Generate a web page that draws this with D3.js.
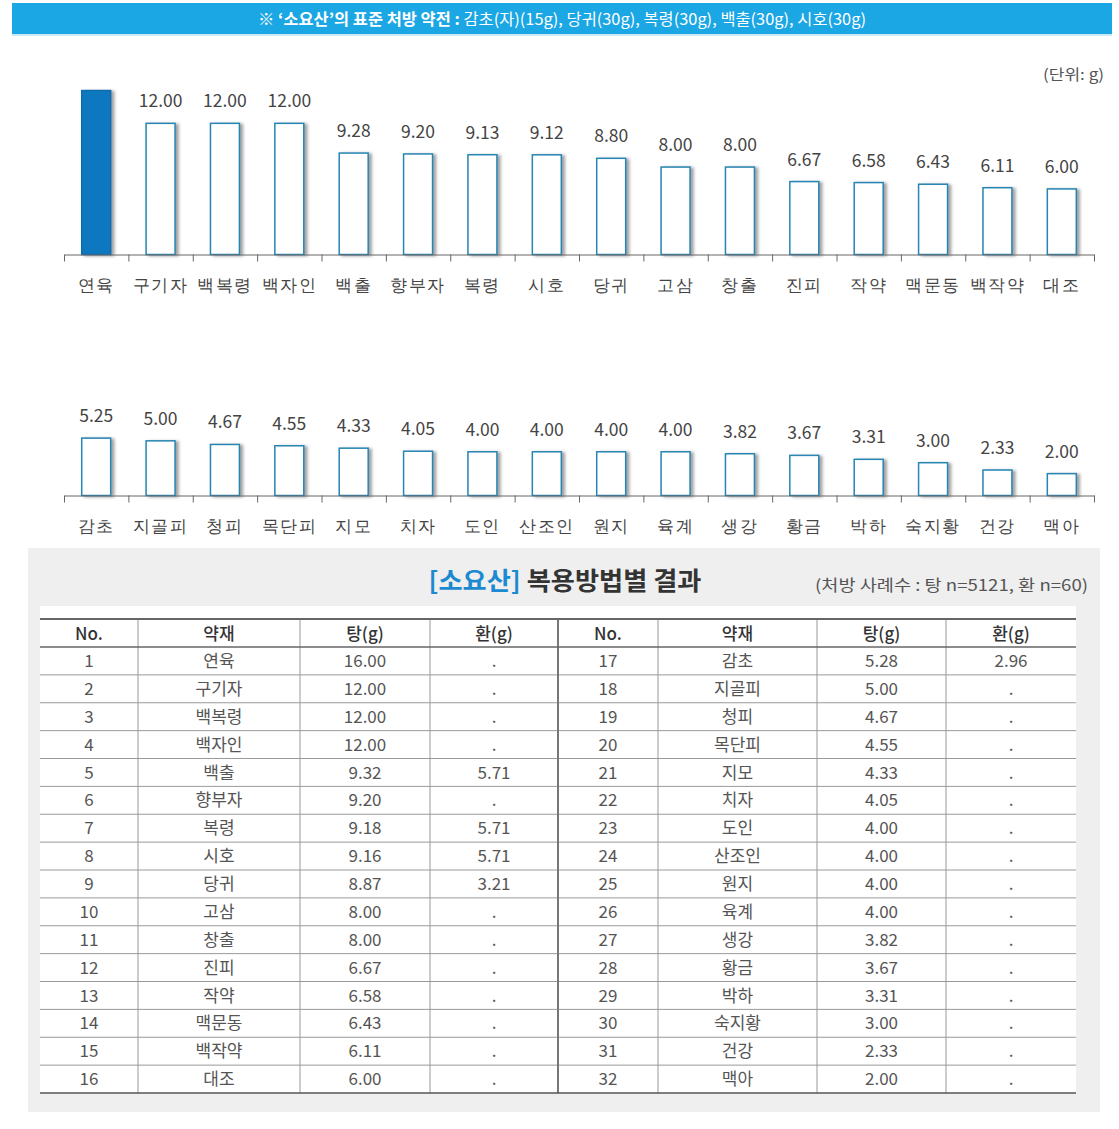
<!DOCTYPE html>
<html><head><meta charset="utf-8">
<script src="https://cdn.jsdelivr.net/npm/d3@7"></script>
<style>
html,body{margin:0;padding:0;background:#fff;}
svg{display:block;font-family:"Noto Sans CJK KR","Noto Sans",sans-serif;}
</style></head>
<body>
<svg id="c" width="1119" height="1129"></svg>
<script>
// ---------- data ----------
const herbs1 = ["연육","구기자","백복령","백자인","백출","향부자","복령","시호","당귀","고삼","창출","진피","작약","맥문동","백작약","대조"];
const values1 = [16.00,12.00,12.00,12.00,9.28,9.20,9.13,9.12,8.80,8.00,8.00,6.67,6.58,6.43,6.11,6.00];
const herbs2 = ["감초","지골피","청피","목단피","지모","치자","도인","산조인","원지","육계","생강","황금","박하","숙지황","건강","맥아"];
const values2 = [5.25,5.00,4.67,4.55,4.33,4.05,4.00,4.00,4.00,4.00,3.82,3.67,3.31,3.00,2.33,2.00];

const tableNo = d3.range(1,33);
const tableHerb = herbs1.concat(herbs2);
const tableTang = ["16.00","12.00","12.00","12.00","9.32","9.20","9.18","9.16","8.87","8.00","8.00","6.67","6.58","6.43","6.11","6.00",
                   "5.28","5.00","4.67","4.55","4.33","4.05","4.00","4.00","4.00","4.00","3.82","3.67","3.31","3.00","2.33","2.00"];
const tableHwan = [".",".",".",".","5.71",".","5.71","5.71","3.21",".",".",".",".",".",".",".",
                   "2.96",".",".",".",".",".",".",".",".",".",".",".",".",".",".","."];
const tableHeads = ["No.","약재","탕(g)","환(g)"];

const svg = d3.select("#c");
const defs = svg.append("defs");
const f = defs.append("filter").attr("id","sh").attr("x","-20%").attr("y","-10%").attr("width","160%").attr("height","130%");
f.append("feDropShadow").attr("dx",3).attr("dy",1).attr("stdDeviation",1.6).attr("flood-color","#555").attr("flood-opacity",0.55);

// ---------- header bar ----------
svg.append("rect").attr("x",12).attr("y",3).attr("width",1100).attr("height",31).attr("fill","#1ba6e4");
svg.append("rect").attr("x",12).attr("y",34).attr("width",1100).attr("height",2).attr("fill","#cde9f6");
const ht = svg.append("text").attr("x",562).attr("y",25).attr("text-anchor","middle")
  .attr("font-size",16).attr("fill","#fff").attr("textLength",608).attr("lengthAdjust","spacingAndGlyphs");
ht.append("tspan").attr("font-weight","bold").text("※ ‘소요산’의 표준 처방 약전 : ");
ht.append("tspan").text("감초(자)(15g), 당귀(30g), 복령(30g), 백출(30g), 시호(30g)");

svg.append("text").attr("x",1104).attr("y",80).attr("text-anchor","end").attr("font-size",15).attr("fill","#555")
  .attr("textLength",61).attr("lengthAdjust","spacingAndGlyphs").text("(단위: g)");

// ---------- bar charts ----------
const X0 = 64, X1 = 1094, PX = 10.93, YMAX = 15;
function drawChart(cats, vals, base, firstFilled){
  const x = d3.scaleBand().domain(cats).range([X0,X1]).paddingInner(0.55).paddingOuter(0.275);
  const y = d3.scaleLinear().domain([0,YMAX]).range([base, base-YMAX*PX]).clamp(true);
  const tickPos = d3.scaleLinear().domain([0,cats.length]).range([X0,X1]);
  const g = svg.append("g");
  g.selectAll("rect.bar").data(cats).join("rect").attr("class","bar")
    .attr("x",d=>x(d)).attr("width",x.bandwidth())
    .attr("y",(d,i)=>y(vals[i])).attr("height",(d,i)=>base-y(vals[i]))
    .attr("fill",(d,i)=>(firstFilled && i===0)?"#0a78c0":"#fff")
    .attr("stroke",(d,i)=>(firstFilled && i===0)?"#0a6cad":"#2585b3").attr("stroke-width",1.5)
    .attr("filter","url(#sh)");
  g.selectAll("text.val").data(cats).join("text").attr("class","val")
    .attr("x",d=>x(d)+x.bandwidth()/2).attr("y",(d,i)=>y(vals[i])-16)
    .attr("text-anchor","middle").attr("font-size",17.5).attr("fill","#444")
    .text((d,i)=>vals[i]>YMAX?"":vals[i].toFixed(2));
  const ta = g.append("g").attr("transform",`translate(0,${base})`)
    .call(d3.axisBottom(tickPos).tickValues(d3.range(cats.length+1)).tickFormat("").tickSize(7).tickSizeOuter(0));
  ta.select(".domain").attr("stroke","#666");
  ta.selectAll(".tick line").attr("stroke","#666");
  const la = g.append("g").attr("transform",`translate(0,${base})`)
    .call(d3.axisBottom(x).tickSize(0).tickPadding(24));
  la.select(".domain").remove();
  la.selectAll("text").attr("font-size",17).attr("fill","#444").attr("font-family",null).attr("letter-spacing",1.5);
}
drawChart(herbs1, values1, 254.5, true);
drawChart(herbs2, values2, 495.5, false);

// ---------- table panel ----------
svg.append("rect").attr("x",28).attr("y",548).attr("width",1072).attr("height",564).attr("fill","#efefef");
svg.append("rect").attr("x",40).attr("y",606).attr("width",1036).attr("height",487).attr("fill","#fff");

const tt = svg.append("text").attr("x",565).attr("y",590).attr("text-anchor","middle").attr("font-size",25).attr("font-weight","bold")
  .attr("textLength",273).attr("lengthAdjust","spacingAndGlyphs");
tt.append("tspan").attr("fill","#1b8ad0").text("[소요산]");
tt.append("tspan").attr("fill","#333").text(" 복용방법별 결과");
svg.append("text").attr("x",1088).attr("y",591).attr("text-anchor","end").attr("font-size",16).attr("fill","#555")
  .attr("textLength",273).attr("lengthAdjust","spacingAndGlyphs").text("(처방 사례수 : 탕 n=5121, 환 n=60)");

const colEdges = [40,138,300,430,558,658,817,946,1076];
const headTop = 619, headBot = 647, rowH = 27.875, nRows = 16;
const rowY = d3.scaleLinear().domain([0,nRows]).range([headBot, headBot+nRows*rowH]);
const tg = svg.append("g");
for(let half=0; half<2; half++){
  tableHeads.forEach((h,j)=>{
    const c = half*4+j;
    tg.append("text").attr("x",(colEdges[c]+colEdges[c+1])/2).attr("y",headTop+21)
      .attr("text-anchor","middle").attr("font-size",17).attr("font-weight",500).attr("fill","#333").text(h);
  });
}
for(let r=0;r<nRows;r++){
  for(let half=0; half<2; half++){
    const k = half*16 + r;
    const cells = [String(tableNo[k]), tableHerb[k], tableTang[k], tableHwan[k]];
    cells.forEach((t,j)=>{
      const c = half*4+j;
      tg.append("text").attr("x",(colEdges[c]+colEdges[c+1])/2).attr("y",rowY(r)+20)
        .attr("text-anchor","middle").attr("font-size",17).attr("fill","#555").text(t);
    });
  }
  if(r>0){
    tg.append("line").attr("x1",40).attr("x2",1076).attr("y1",rowY(r)).attr("y2",rowY(r)).attr("stroke","#9a9a9a").attr("stroke-width",1);
  }
}
colEdges.slice(1,-1).forEach((cx,i)=>{
  tg.append("line").attr("x1",cx).attr("x2",cx).attr("y1",headTop).attr("y2",rowY(nRows))
    .attr("stroke", i===3?"#777":"#999").attr("stroke-width", i===3?2:1);
});
tg.append("line").attr("x1",40).attr("x2",1076).attr("y1",headTop).attr("y2",headTop).attr("stroke","#666").attr("stroke-width",2);
tg.append("line").attr("x1",40).attr("x2",1076).attr("y1",headBot).attr("y2",headBot).attr("stroke","#666").attr("stroke-width",1.5);
tg.append("line").attr("x1",40).attr("x2",1076).attr("y1",rowY(nRows)).attr("y2",rowY(nRows)).attr("stroke","#555").attr("stroke-width",1.5);
</script>
</body></html>
